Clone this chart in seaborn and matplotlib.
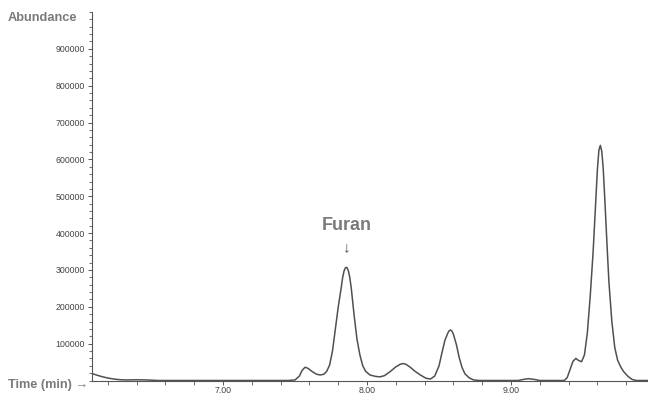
import matplotlib
matplotlib.use("Agg")
import matplotlib.pyplot as plt
import seaborn as sns
import pandas as pd
from matplotlib.ticker import MultipleLocator, FixedLocator

# Retention time (min) and abundance
time_min = [6.09, 6.12, 6.15, 6.18, 6.21, 6.25, 6.29, 6.33, 6.40, 6.47, 6.55,
            7.00, 7.45, 7.50, 7.53, 7.55, 7.57, 7.59, 7.62, 7.65, 7.675,
            7.70, 7.72, 7.74, 7.76, 7.78, 7.80, 7.82, 7.83, 7.84, 7.85,
            7.86, 7.87, 7.88, 7.89, 7.91, 7.93, 7.95, 7.97, 7.99, 8.02,
            8.06, 8.09, 8.12, 8.16, 8.20, 8.23, 8.25, 8.27, 8.30, 8.33,
            8.37, 8.41, 8.44, 8.47, 8.50, 8.52, 8.54, 8.56, 8.57, 8.58,
            8.59, 8.60, 8.62, 8.64, 8.66, 8.68, 8.71, 8.74, 8.78, 9.05,
            9.08, 9.12, 9.16, 9.20, 9.37, 9.39, 9.41, 9.43, 9.45, 9.47,
            9.49, 9.51, 9.53, 9.55, 9.57, 9.59, 9.60, 9.61, 9.62, 9.63,
            9.64, 9.65, 9.66, 9.67, 9.68, 9.70, 9.72, 9.74, 9.76, 9.78,
            9.81, 9.84, 9.87, 9.95]
abundance = [19000, 15000, 11500, 8500, 6000, 3500, 2000, 1500, 2000, 1500, 0,
             0, 0, 1500, 12000, 28000, 36000, 33000, 24000, 17000, 15000,
             17000, 25000, 42000, 80000, 140000, 200000, 250000, 278000, 297000, 306000,
             307000, 298000, 280000, 252000, 178000, 112000, 70000, 40000, 25000, 15000,
             11000, 10000, 13000, 24000, 37000, 44000, 46000, 44000, 36000, 26000,
             15000, 6000, 4000, 12000, 40000, 75000, 108000, 128000, 135000, 137000,
             134000, 125000, 98000, 62000, 35000, 18000, 7000, 1500, 0, 0,
             2500, 5000, 3000, 0, 0, 8000, 30000, 52000, 60000, 54000,
             51000, 70000, 130000, 230000, 350000, 500000, 575000, 625000, 638000, 622000,
             575000, 500000, 420000, 340000, 265000, 160000, 90000, 55000, 38000, 25000,
             12000, 3000, 0, 0]

y_tick_values = [100000, 200000, 300000, 400000, 500000, 600000, 700000, 800000, 900000]
y_tick_labels = ["100000", "200000", "300000", "400000", "500000",
                 "600000", "700000", "800000", "900000"]
x_tick_values = [7.0, 8.0, 9.0]
x_tick_labels = ["7.00", "8.00", "9.00"]

df = pd.DataFrame({"Time": time_min, "Abundance": abundance})

sns.set_style("ticks")
plt.rcParams["font.family"] = ["Liberation Sans", "DejaVu Sans"]

W, H = 648, 394
fig = plt.figure(figsize=(W / 100, H / 100), dpi=100)
ax = fig.add_axes([92 / W, 1 - 380.5 / H, 556 / W, 368.5 / H])

sns.lineplot(data=df, x="Time", y="Abundance", ax=ax, color="#505050",
             linewidth=1.1, estimator=None, sort=False)

ax.set_xlim(6.09, 9.951)
ax.set_ylim(0, 1000000)

for s in ["top", "right"]:
    ax.spines[s].set_visible(False)
ax.spines["left"].set_color("#555555")
ax.spines["bottom"].set_color("#555555")
ax.spines["left"].set_linewidth(0.8)
ax.spines["bottom"].set_linewidth(0.8)

ax.set_yticks(y_tick_values)
ax.set_yticklabels(y_tick_labels)
ax.yaxis.set_minor_locator(MultipleLocator(20000))
ax.set_xticks(x_tick_values)
ax.set_xticklabels(x_tick_labels)
ax.xaxis.set_minor_locator(FixedLocator([6.2 + 0.2 * i for i in range(19)]))

ax.tick_params(axis="y", which="major", length=3, width=0.7, color="#555555",
               labelsize=6.3, labelcolor="#444444", pad=2)
ax.tick_params(axis="y", which="minor", length=2, width=0.6, color="#555555")
ax.tick_params(axis="x", which="major", length=3, width=0.7, color="#555555",
               labelsize=6.3, labelcolor="#444444", pad=1)
ax.tick_params(axis="x", which="minor", length=3, width=0.6, color="#555555")

ax.set_xlabel("")
ax.set_ylabel("")

fig.text(8 / W, 1 - 18 / H, "Abundance", fontsize=9.2, fontweight="bold",
         color="#7a7a7a", ha="left", va="center")
fig.text(8 / W, 1 - 385 / H, "Time (min) \u2192", fontsize=9.2, fontweight="bold",
         color="#7a7a7a", ha="left", va="center")

ax.text(7.86, 421000, "Furan", fontsize=13, fontweight="bold", color="#7a7a7a",
        ha="center", va="center")
ax.text(7.86, 363000, "\u2193", fontsize=11, color="#555555",
        ha="center", va="center")

fig.savefig("out.png", dpi=100)
